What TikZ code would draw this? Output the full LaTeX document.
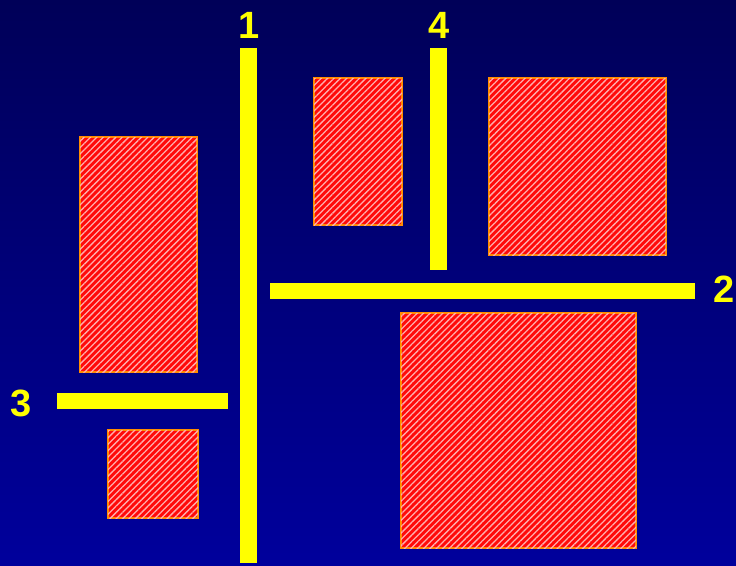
\documentclass[tikz,border=0pt]{standalone}
\usepackage{fontspec}
\setmainfont{Liberation Sans}
\usetikzlibrary{patterns.meta}
\definecolor{navytop}{RGB}{0,0,88}
\definecolor{navybot}{RGB}{0,0,156}
\definecolor{wireyellow}{RGB}{255,255,0}
\definecolor{blockred}{RGB}{255,10,10}
\definecolor{blockedge}{RGB}{255,140,0}
\tikzset{
  wire/.style={fill=wireyellow},
  block/.style={fill=blockred,
    postaction={pattern={Lines[angle=45, distance=4.5pt, line width=1.3pt]}, pattern color=white!68!red},
    draw=blockedge, line width=2.2pt},
  num/.style={text=wireyellow, font=\fontsize{38}{40}\selectfont\bfseries}
}
\begin{document}
\begin{tikzpicture}[x=1pt, y=-1pt]
  \useasboundingbox (0,0) rectangle (736,565);
  \shade[top color=navytop, bottom color=navybot] (0,0) rectangle (736,565);
  % red blocks
  \draw[block] (80,137) rectangle (197,372);
  \draw[block] (108,430) rectangle (198,518);
  \draw[block] (314,78) rectangle (402,225);
  \draw[block] (489,78) rectangle (666,255);
  \draw[block] (401,313) rectangle (636,548);
  % yellow wires
  \fill[wire] (240,48) rectangle (257,563);
  \fill[wire] (430,48) rectangle (447,270);
  \fill[wire] (270,283) rectangle (695,299);
  \fill[wire] (57,393) rectangle (228,409);
  % wire numbers
  \node[num] (n1) at (249,25) {1};
  \node[num] (n2) at (724,289) {2};
  \node[num] (n3) at (21,403) {3};
  \node[num] (n4) at (439,25) {4};
\end{tikzpicture}
\end{document}
